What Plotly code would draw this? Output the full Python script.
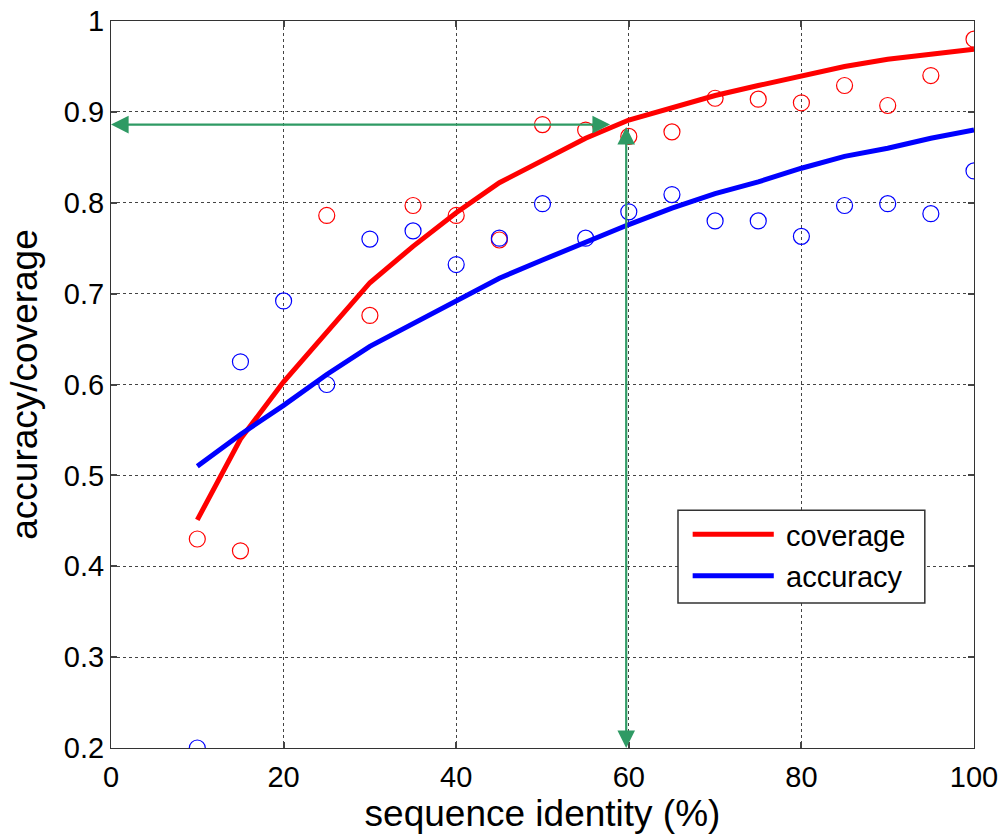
import plotly.graph_objects as go

# ---- data ----
identity = [10, 15, 20, 25, 30, 35, 40, 45, 50, 55, 60, 65, 70, 75, 80, 85, 90, 95, 100]

coverage_points = [0.430, 0.417, None, 0.786, 0.676, 0.797, 0.786, 0.759, 0.886, 0.880,
                   0.873, 0.878, 0.915, 0.914, 0.910, 0.929, 0.907, 0.940, 0.980]
accuracy_points = [0.200, 0.625, 0.692, 0.600, 0.760, 0.769, 0.732, 0.761, 0.799, 0.761,
                   0.790, 0.809, 0.780, 0.780, 0.763, 0.797, 0.799, 0.788, 0.835]

coverage_fit = [0.451, 0.540, 0.603, 0.658, 0.712, 0.752, 0.789, 0.822, 0.846, 0.871,
                0.891, 0.905, 0.918, 0.929, 0.940, 0.950, 0.958, 0.963, 0.969]
accuracy_fit = [0.510, 0.545, 0.577, 0.611, 0.642, 0.667, 0.693, 0.717, 0.737, 0.757,
                0.776, 0.794, 0.810, 0.823, 0.838, 0.851, 0.860, 0.871, 0.880]

series_names = ["coverage", "accuracy"]

x_ticks = [0, 20, 40, 60, 80, 100]
y_ticks = [0.2, 0.3, 0.4, 0.5, 0.6, 0.7, 0.8, 0.9, 1.0]
y_tick_labels = ["0.2", "0.3", "0.4", "0.5", "0.6", "0.7", "0.8", "0.9", "1"]

# guide arrows: read-off point at 60 % identity
guide_x = 59.7
guide_y = 0.886
h_arrow_tip = 58.0

FONT = "Arial, Liberation Sans, Helvetica, sans-serif"
RED = "#ff0000"
BLUE = "#0000ff"
GREEN = "#2f9a64"
colors = [RED, BLUE]

fig = go.Figure()

for name, fit, col in zip(series_names, [coverage_fit, accuracy_fit], colors):
    fig.add_trace(go.Scatter(x=identity, y=fit, mode="lines", name=name, showlegend=False,
                             line=dict(color=col, width=5)))
for name, pts, col in zip(series_names, [coverage_points, accuracy_points], colors):
    fig.add_trace(go.Scatter(x=identity, y=pts, mode="markers", name=name + " data",
                             showlegend=False,
                             marker=dict(symbol="circle-open", size=16, color=col,
                                         line=dict(width=1.2, color=col))))

# horizontal double arrow
fig.add_annotation(x=0, y=guide_y, ax=h_arrow_tip, ay=guide_y, xref="x", yref="y",
                   axref="x", ayref="y", showarrow=True, text="", arrowside="end+start",
                   arrowhead=2, arrowsize=1.6, arrowwidth=2.2, arrowcolor=GREEN)
# vertical double arrow
fig.add_annotation(x=guide_x, y=0.2, ax=guide_x, ay=guide_y - 0.001, xref="x", yref="y",
                   axref="x", ayref="y", showarrow=True, text="", arrowside="end+start",
                   arrowhead=2, arrowsize=1.6, arrowwidth=2.2, arrowcolor=GREEN)

# legend box (MATLAB style, long line samples)
fig.add_shape(type="rect", xref="paper", yref="paper", x0=0.657, x1=0.943, y0=0.1995, y1=0.327,
              line=dict(color="#333333", width=1.5), fillcolor="white", layer="above")
legend_rows_y = [0.294, 0.237]
for name, col, ly in zip(series_names, colors, legend_rows_y):
    fig.add_shape(type="line", xref="paper", yref="paper", x0=0.674, x1=0.768, y0=ly, y1=ly,
                  line=dict(color=col, width=5), layer="above")
    fig.add_annotation(x=0.780, y=ly - 0.002, xref="paper", yref="paper", text=name,
                       showarrow=False, xanchor="left", yanchor="middle",
                       font=dict(family=FONT, size=29, color="black"))

axis_common = dict(
    showgrid=True, gridcolor="#444444", griddash="dot", gridwidth=1,
    showline=True, linecolor="#333333", linewidth=1, mirror="ticks",
    ticks="inside", ticklen=6, tickcolor="#444444", tickwidth=1.5,
    zeroline=False, tickfont=dict(family=FONT, size=29, color="black"),
    ticklabeloverflow="allow",
)

fig.update_xaxes(range=[0, 100], tickvals=x_ticks, ticktext=[str(v) for v in x_ticks],
                 title=dict(text="sequence identity (%)", font=dict(family=FONT, size=37, color="black"),
                            standoff=6),
                 ticklabelstandoff=3, **axis_common)
fig.update_yaxes(range=[0.2, 1.0], tickvals=y_ticks, ticktext=y_tick_labels,
                 title=dict(text="accuracy/coverage", font=dict(family=FONT, size=37, color="black"),
                            standoff=14),
                 ticklabelstandoff=0, **axis_common)

fig.update_layout(
    width=1005, height=838,
    margin=dict(l=111, r=31, t=21, b=90, autoexpand=False),
    plot_bgcolor="white", paper_bgcolor="white",
    font=dict(family=FONT, color="black"),
    showlegend=False,
)

# remove the default 8px page margin so the figure fills the window exactly
fig.write_html("out.html", config={"displayModeBar": False},
               post_script="document.body.style.margin='0px';")
